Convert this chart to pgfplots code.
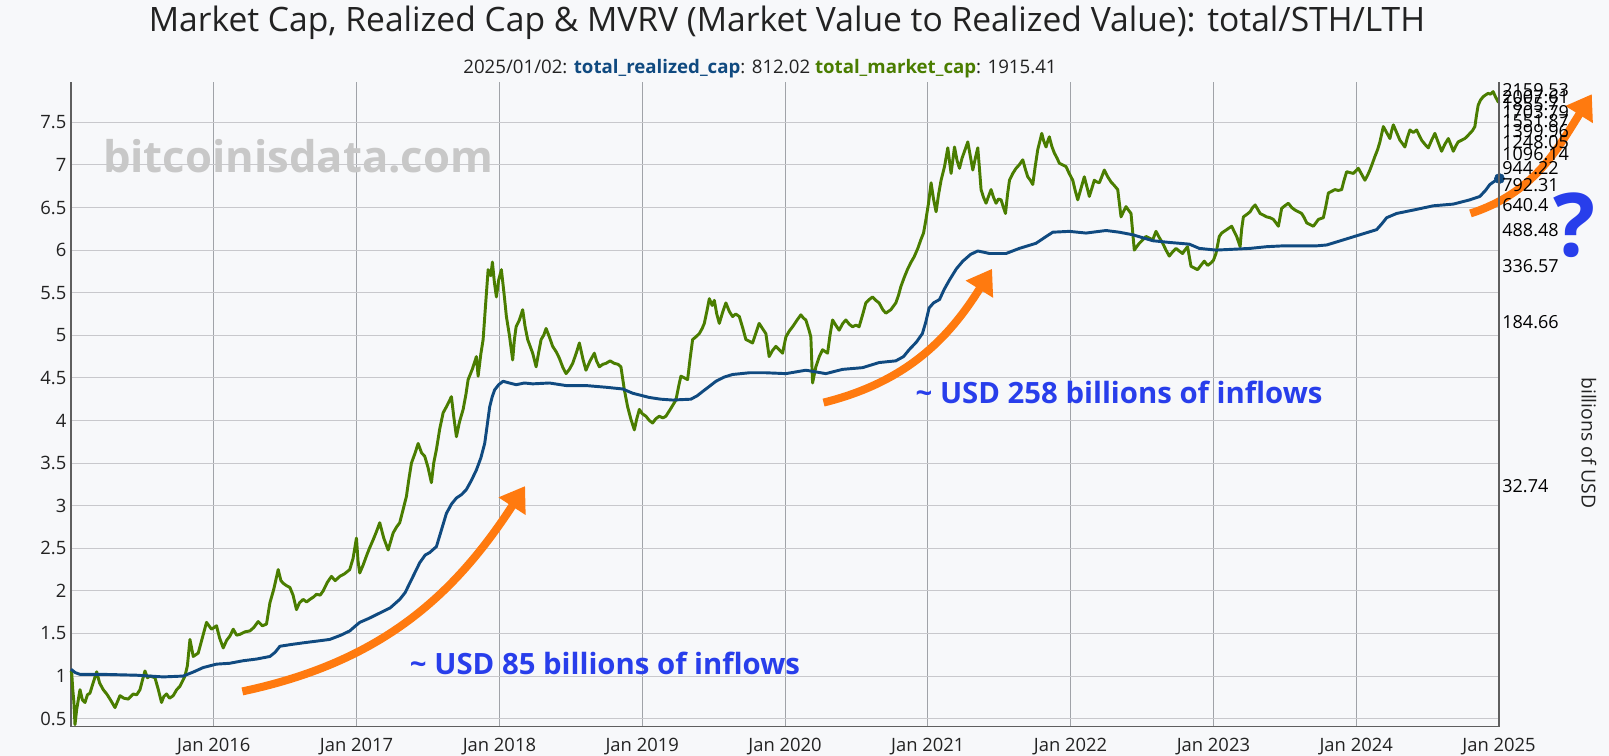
\documentclass[border=0pt]{standalone}
\usepackage{pgfplots}
\pgfplotsset{compat=1.18}
\usepackage{fontspec}
\setmainfont{Open Sans}
\usetikzlibrary{arrows.meta}
\definecolor{bg}{RGB}{247,248,250}
\definecolor{mcgreen}{RGB}{74,125,0}
\definecolor{rcblue}{RGB}{16,74,128}
\definecolor{annblue}{RGB}{40,62,235}
\definecolor{arrorange}{RGB}{255,122,15}
\definecolor{axgray}{RGB}{95,95,95}
\definecolor{txtdark}{RGB}{34,34,34}
\definecolor{wmgray}{RGB}{200,200,200}
\begin{document}
\begin{tikzpicture}
\fill[bg] (-53.25pt,-21.975pt) rectangle (1153.5pt,545pt);
\begin{axis}[
  at={(0pt,0pt)}, anchor=south west,
  width=1071pt, height=483.75pt, scale only axis,
  xmin=2015, xmax=2025, ymin=0.406, ymax=7.977,
  axis x line*=bottom, axis y line*=left,
  axis line style={draw=axgray, line width=1pt},
  xtick={2016,2017,2018,2019,2020,2021,2022,2023,2024,2025},
  xticklabels={Jan 2016,Jan 2017,Jan 2018,Jan 2019,Jan 2020,Jan 2021,Jan 2022,Jan 2023,Jan 2024,Jan 2025},
  ytick={0.5,1,1.5,2,2.5,3,3.5,4,4.5,5,5.5,6,6.5,7,7.5},
  yticklabels={0.5,1,1.5,2,2.5,3,3.5,4,4.5,5,5.5,6,6.5,7,7.5},
  grid=major,
  major x grid style={draw={rgb,255:red,160;green,163;blue,168}, line width=0.6pt},
  major y grid style={draw={rgb,255:red,200;green,200;blue,204}, line width=0.75pt},
  major tick length=0pt,
  tick label style={font=\fontsize{13.8}{16}\selectfont, text=txtdark},
  xticklabel style={yshift=-5pt},
  /pgf/number format/assume math mode=true,
  clip=false,
]
\node[anchor=base, font=\bfseries\fontsize{32.7}{38}\selectfont, text=wmgray] at (axis cs:2016.59,6.905) {bitcoinisdata.com};

\addplot[mcgreen, line width=2.2pt, line join=round] coordinates {
(2015.000,1.06) (2015.005,1.04) (2015.012,0.85) (2015.020,0.70) (2015.028,0.43) (2015.040,0.61) (2015.063,0.84)
(2015.080,0.72) (2015.098,0.69) (2015.115,0.78) (2015.133,0.80) (2015.155,0.92) (2015.180,1.05)
(2015.200,0.92) (2015.226,0.84) (2015.250,0.79) (2015.273,0.73) (2015.308,0.63) (2015.343,0.77)
(2015.370,0.74) (2015.401,0.73) (2015.436,0.79) (2015.460,0.78) (2015.483,0.84) (2015.500,0.95)
(2015.518,1.06) (2015.535,0.98) (2015.553,1.00) (2015.588,0.98) (2015.610,0.85) (2015.634,0.69)
(2015.650,0.76) (2015.669,0.79) (2015.690,0.74) (2015.716,0.77) (2015.740,0.84) (2015.763,0.88)
(2015.798,1.00) (2015.815,1.12) (2015.833,1.43) (2015.856,1.23) (2015.891,1.27) (2015.920,1.45)
(2015.949,1.63) (2015.984,1.55) (2016.019,1.59) (2016.040,1.45) (2016.066,1.33) (2016.090,1.42)
(2016.113,1.47) (2016.136,1.55) (2016.160,1.48) (2016.183,1.49) (2016.220,1.52) (2016.253,1.53)
(2016.280,1.57) (2016.311,1.64) (2016.340,1.59) (2016.369,1.61) (2016.393,1.86) (2016.420,2.02)
(2016.451,2.25) (2016.470,2.12) (2016.486,2.09) (2016.510,2.06) (2016.533,2.04) (2016.555,1.95)
(2016.579,1.78) (2016.600,1.86) (2016.626,1.90) (2016.650,1.87) (2016.673,1.90) (2016.700,1.93)
(2016.719,1.96) (2016.745,1.95) (2016.766,2.00) (2016.795,2.10) (2016.824,2.17) (2016.850,2.12)
(2016.882,2.17) (2016.915,2.20) (2016.952,2.25) (2016.975,2.38) (2016.999,2.62) (2017.010,2.35)
(2017.022,2.21) (2017.045,2.30) (2017.069,2.41) (2017.090,2.50) (2017.116,2.60) (2017.140,2.70)
(2017.162,2.80) (2017.190,2.62) (2017.221,2.48) (2017.256,2.68) (2017.280,2.75) (2017.302,2.80)
(2017.325,2.95) (2017.349,3.11) (2017.365,3.30) (2017.384,3.50) (2017.410,3.62) (2017.431,3.73)
(2017.455,3.62) (2017.477,3.58) (2017.500,3.45) (2017.524,3.27) (2017.540,3.50) (2017.559,3.66)
(2017.582,3.90) (2017.606,4.09) (2017.635,4.18) (2017.664,4.28) (2017.680,4.05) (2017.699,3.81)
(2017.720,3.98) (2017.746,4.13) (2017.765,4.30) (2017.781,4.48) (2017.810,4.60) (2017.839,4.75)
(2017.851,4.52) (2017.870,4.78) (2017.886,4.95) (2017.905,5.40) (2017.921,5.77) (2017.940,5.70)
(2017.951,5.86) (2017.965,5.62) (2017.979,5.45) (2017.995,5.65) (2018.014,5.77) (2018.035,5.45)
(2018.049,5.22) (2018.070,5.00) (2018.093,4.71) (2018.105,4.95) (2018.117,5.10) (2018.140,5.18)
(2018.163,5.30) (2018.180,5.10) (2018.198,4.95) (2018.233,4.79) (2018.257,4.63) (2018.275,4.80)
(2018.292,4.95) (2018.310,5.00) (2018.327,5.08) (2018.350,4.98) (2018.373,4.87) (2018.400,4.80)
(2018.420,4.73) (2018.445,4.62) (2018.467,4.55) (2018.490,4.60) (2018.513,4.67) (2018.540,4.80)
(2018.560,4.91) (2018.585,4.72) (2018.606,4.59) (2018.635,4.70) (2018.665,4.79) (2018.680,4.70)
(2018.700,4.63) (2018.725,4.66) (2018.746,4.67) (2018.775,4.70) (2018.805,4.67) (2018.830,4.66)
(2018.851,4.63) (2018.875,4.36) (2018.898,4.16) (2018.920,4.02) (2018.945,3.89) (2018.962,4.02)
(2018.980,4.13) (2019.000,4.08) (2019.026,4.05) (2019.050,4.00) (2019.073,3.97) (2019.095,4.02)
(2019.120,4.05) (2019.145,4.03) (2019.166,4.05) (2019.200,4.14) (2019.236,4.24) (2019.255,4.40)
(2019.271,4.52) (2019.295,4.50) (2019.318,4.48) (2019.335,4.72) (2019.353,4.95) (2019.375,4.98)
(2019.400,5.02) (2019.420,5.08) (2019.435,5.14) (2019.455,5.30) (2019.470,5.43) (2019.490,5.35)
(2019.505,5.41) (2019.522,5.25) (2019.540,5.14) (2019.565,5.28) (2019.586,5.38) (2019.610,5.28)
(2019.633,5.22) (2019.655,5.25) (2019.680,5.22) (2019.705,5.08) (2019.726,4.95) (2019.750,4.93)
(2019.773,4.91) (2019.795,5.02) (2019.819,5.14) (2019.842,5.08) (2019.866,5.02) (2019.889,4.75)
(2019.912,4.82) (2019.936,4.87) (2019.960,4.83) (2019.983,4.79) (2020.006,4.98) (2020.030,5.05)
(2020.053,5.10) (2020.085,5.18) (2020.111,5.24) (2020.130,5.20) (2020.146,5.18) (2020.170,5.05)
(2020.181,4.98) (2020.193,4.44) (2020.216,4.63) (2020.240,4.75) (2020.263,4.83) (2020.298,4.79)
(2020.315,5.00) (2020.333,5.18) (2020.355,5.12) (2020.379,5.06) (2020.405,5.14) (2020.426,5.18)
(2020.450,5.13) (2020.473,5.10) (2020.497,5.12) (2020.519,5.10) (2020.545,5.25) (2020.566,5.38)
(2020.590,5.42) (2020.613,5.45) (2020.636,5.41) (2020.659,5.38) (2020.685,5.30) (2020.706,5.26)
(2020.741,5.30) (2020.776,5.38) (2020.795,5.47) (2020.811,5.57) (2020.835,5.68) (2020.857,5.77)
(2020.880,5.85) (2020.904,5.92) (2020.930,6.02) (2020.951,6.12) (2020.970,6.20) (2020.986,6.35)
(2021.005,6.55) (2021.023,6.79) (2021.040,6.60) (2021.058,6.45) (2021.075,6.65) (2021.093,6.82)
(2021.117,6.98) (2021.140,7.20) (2021.163,6.90) (2021.187,7.21) (2021.205,7.05) (2021.222,6.96)
(2021.240,7.08) (2021.257,7.16) (2021.280,7.27) (2021.298,7.10) (2021.315,6.94) (2021.333,7.08)
(2021.350,7.20) (2021.362,6.95) (2021.373,6.71) (2021.390,6.62) (2021.408,6.55) (2021.425,6.63)
(2021.443,6.71) (2021.460,6.62) (2021.478,6.55) (2021.495,6.60) (2021.513,6.59) (2021.530,6.50)
(2021.544,6.43) (2021.558,6.65) (2021.572,6.82) (2021.595,6.90) (2021.618,6.96) (2021.640,7.00)
(2021.665,7.06) (2021.683,6.95) (2021.700,6.86) (2021.718,6.82) (2021.735,6.77) (2021.752,6.98)
(2021.770,7.18) (2021.785,7.28) (2021.798,7.37) (2021.812,7.28) (2021.828,7.21) (2021.840,7.28)
(2021.851,7.33) (2021.868,7.22) (2021.886,7.14) (2021.905,7.08) (2021.921,7.02) (2021.945,7.00)
(2021.968,6.98) (2021.990,6.90) (2022.015,6.82) (2022.032,6.70) (2022.050,6.59) (2022.072,6.72)
(2022.096,6.86) (2022.113,6.75) (2022.131,6.63) (2022.148,6.72) (2022.166,6.82) (2022.184,6.80)
(2022.201,6.79) (2022.218,6.86) (2022.236,6.94) (2022.260,6.86) (2022.283,6.80) (2022.305,6.76)
(2022.330,6.71) (2022.353,6.39) (2022.370,6.45) (2022.388,6.51) (2022.405,6.47) (2022.423,6.43)
(2022.446,6.00) (2022.463,6.04) (2022.481,6.08) (2022.505,6.12) (2022.528,6.16) (2022.552,6.14)
(2022.575,6.12) (2022.598,6.22) (2022.620,6.15) (2022.645,6.08) (2022.668,6.00) (2022.691,5.93)
(2022.715,5.98) (2022.738,6.02) (2022.760,5.99) (2022.784,5.96) (2022.800,6.00) (2022.819,6.04)
(2022.843,5.81) (2022.866,5.79) (2022.889,5.77) (2022.912,5.82) (2022.936,5.87) (2022.960,5.82)
(2022.983,5.85) (2023.000,5.88) (2023.018,5.96) (2023.041,6.16) (2023.058,6.20) (2023.075,6.22)
(2023.093,6.24) (2023.110,6.26) (2023.128,6.28) (2023.145,6.22) (2023.163,6.16) (2023.175,6.10)
(2023.187,6.04) (2023.198,6.25) (2023.210,6.39) (2023.235,6.42) (2023.257,6.45) (2023.275,6.50)
(2023.292,6.53) (2023.310,6.48) (2023.327,6.43) (2023.350,6.41) (2023.373,6.39) (2023.397,6.38)
(2023.420,6.36) (2023.438,6.32) (2023.455,6.28) (2023.478,6.49) (2023.500,6.52) (2023.525,6.55)
(2023.548,6.50) (2023.572,6.47) (2023.595,6.45) (2023.618,6.43) (2023.636,6.38) (2023.653,6.32)
(2023.676,6.30) (2023.700,6.28) (2023.718,6.32) (2023.735,6.36) (2023.770,6.38) (2023.788,6.52)
(2023.805,6.67) (2023.828,6.69) (2023.851,6.71) (2023.875,6.70) (2023.898,6.71) (2023.915,6.82)
(2023.933,6.92) (2023.956,6.91) (2023.980,6.90) (2024.015,6.96) (2024.038,6.89) (2024.061,6.82)
(2024.080,6.88) (2024.096,6.94) (2024.114,7.02) (2024.131,7.10) (2024.150,7.18) (2024.166,7.27)
(2024.178,7.36) (2024.190,7.45) (2024.213,7.38) (2024.236,7.31) (2024.248,7.40) (2024.260,7.47)
(2024.283,7.38) (2024.306,7.29) (2024.324,7.25) (2024.341,7.21) (2024.358,7.32) (2024.376,7.41)
(2024.400,7.38) (2024.423,7.41) (2024.440,7.35) (2024.458,7.29) (2024.482,7.24) (2024.505,7.20)
(2024.528,7.29) (2024.551,7.37) (2024.575,7.26) (2024.598,7.16) (2024.620,7.24) (2024.645,7.31)
(2024.662,7.24) (2024.680,7.16) (2024.697,7.22) (2024.714,7.27) (2024.738,7.29) (2024.761,7.31)
(2024.780,7.34) (2024.796,7.37) (2024.813,7.40) (2024.831,7.45) (2024.842,7.58) (2024.854,7.70)
(2024.870,7.76) (2024.889,7.80) (2024.905,7.82) (2024.924,7.84) (2024.940,7.83) (2024.959,7.86)
(2024.975,7.80) (2024.994,7.74) (2025.003,7.75)
};

\addplot[rcblue, line width=2.2pt, line join=round] coordinates {
(2015.000,1.08) (2015.030,1.04) (2015.063,1.02) (2015.226,1.02) (2015.460,1.01) (2015.646,0.99)
(2015.786,1.00) (2015.860,1.05) (2015.926,1.10) (2016.019,1.14) (2016.110,1.15) (2016.206,1.18)
(2016.300,1.20) (2016.393,1.23) (2016.430,1.28) (2016.463,1.35) (2016.540,1.37) (2016.626,1.39)
(2016.720,1.41) (2016.812,1.43) (2016.890,1.48) (2016.952,1.53) (2017.000,1.60) (2017.022,1.63)
(2017.090,1.68) (2017.162,1.74) (2017.235,1.80) (2017.302,1.90) (2017.340,1.98) (2017.372,2.09)
(2017.410,2.22) (2017.442,2.33) (2017.480,2.42) (2017.512,2.45) (2017.559,2.52) (2017.595,2.72)
(2017.629,2.91) (2017.665,3.02) (2017.699,3.09) (2017.735,3.13) (2017.769,3.19) (2017.805,3.30)
(2017.839,3.42) (2017.870,3.56) (2017.897,3.73) (2017.915,3.95) (2017.932,4.16) (2017.950,4.28)
(2017.967,4.36) (2017.995,4.42) (2018.026,4.46) (2018.070,4.44) (2018.117,4.42) (2018.175,4.44)
(2018.233,4.43) (2018.350,4.44) (2018.467,4.41) (2018.606,4.41) (2018.746,4.39) (2018.863,4.37)
(2018.933,4.32) (2019.050,4.27) (2019.130,4.25) (2019.213,4.24) (2019.341,4.25) (2019.385,4.29)
(2019.423,4.34) (2019.470,4.40) (2019.516,4.46) (2019.575,4.51) (2019.633,4.54) (2019.750,4.56)
(2019.866,4.56) (2020.006,4.55) (2020.146,4.59) (2020.286,4.55) (2020.403,4.60) (2020.543,4.62)
(2020.659,4.68) (2020.776,4.70) (2020.830,4.75) (2020.869,4.83) (2020.920,4.92) (2020.962,5.02)
(2020.985,5.15) (2021.009,5.32) (2021.040,5.38) (2021.082,5.42) (2021.115,5.54) (2021.152,5.65)
(2021.200,5.78) (2021.245,5.87) (2021.300,5.95) (2021.350,5.99) (2021.432,5.96) (2021.548,5.96)
(2021.641,6.02) (2021.758,6.08) (2021.820,6.15) (2021.875,6.21) (2021.991,6.22) (2022.108,6.20)
(2022.248,6.23) (2022.341,6.21) (2022.435,6.18) (2022.575,6.11) (2022.691,6.09) (2022.831,6.07)
(2022.901,6.02) (2023.018,6.00) (2023.140,6.01) (2023.257,6.02) (2023.373,6.04) (2023.490,6.05)
(2023.606,6.05) (2023.723,6.05) (2023.793,6.06) (2023.910,6.12) (2024.026,6.18) (2024.143,6.24)
(2024.180,6.31) (2024.213,6.38) (2024.283,6.43) (2024.400,6.47) (2024.540,6.52) (2024.680,6.54)
(2024.796,6.59) (2024.866,6.63) (2024.905,6.70) (2024.936,6.77) (2024.970,6.81) (2024.994,6.84)
(2025.003,6.84)
};
\addplot[rcblue, only marks, mark=*, mark size=3.8pt] coordinates {(2025.003,6.84)};

\draw[arrorange, line width=6pt, -{Triangle[length=18pt,width=23pt]}]
  (axis cs:2016.20,0.82) to[out=12,in=237] (axis cs:2018.18,3.23);
\draw[arrorange, line width=6pt, -{Triangle[length=18pt,width=23pt]}]
  (axis cs:2020.27,4.21) to[out=14,in=238] (axis cs:2021.45,5.78);
\draw[arrorange, line width=6pt, -{Triangle[length=18pt,width=23pt]}]
  (axis cs:2024.80,6.43) to[out=18,in=238] (axis cs:2025.65,7.83);

\node[anchor=base west, inner sep=0pt, font=\bfseries\fontsize{22}{26}\selectfont, text=annblue]
  at (axis cs:2017.372,1.013) {\textasciitilde{} USD 85 billions of inflows};
\node[anchor=base west, inner sep=0pt, font=\bfseries\fontsize{22}{26}\selectfont, text=annblue]
  at (axis cs:2020.913,4.194) {\textasciitilde{} USD 258 billions of inflows};
\node[anchor=base, inner sep=0pt, font=\bfseries\fontsize{66}{76}\selectfont, text=annblue]
  at (axis cs:2025.53,5.93) {?};
\end{axis}

\begin{axis}[
  at={(0pt,0pt)}, anchor=south west,
  width=1071pt, height=483.75pt, scale only axis,
  xmin=2015, xmax=2025, ymode=log, ymin=2.575, ymax=2359,
  hide x axis, axis y line*=right,
  axis line style={draw=axgray, line width=1pt},
  ytick={32.74,184.66,336.57,488.48,640.4,792.31,944.22,1096.14,1248.05,1399.96,1551.87,1703.79,1855.7,2007.61,2159.53},
  yticklabels={32.74,184.66,336.57,488.48,640.4,792.31,944.22,1096.14,1248.05,1399.96,1551.87,1703.79,1855.7,2007.61,2159.53},
  yticklabel style={anchor=west, xshift=-1pt, font=\fontsize{13.5}{15}\selectfont, text=black},
  major tick length=0pt, minor tick length=0pt, minor ytick={},
]
\addplot[draw=none] coordinates {(2015,10) (2025,100)};
\end{axis}

\node[font=\fontsize{25.2}{30}\selectfont, text=txtdark] at (537pt,527.8pt)
  {Market Cap, Realized Cap \& MVRV (Market Value to Realized Value): total/STH/LTH};
\node[font=\fontsize{14}{16}\selectfont, text=txtdark] at (516.75pt,493.3pt)
  {2025/01/02: \textcolor{rcblue}{\bfseries total\_realized\_cap}: 812.02 \textcolor{mcgreen}{\bfseries total\_market\_cap}: 1915.41};
\node[rotate=-90, font=\fontsize{14.5}{16}\selectfont, text=txtdark] at (1138.5pt,212.8pt) {billions of USD};

\pgfresetboundingbox
\path (-53.25pt,-21.975pt) rectangle (1153.5pt,545pt);
\end{tikzpicture}
\end{document}
